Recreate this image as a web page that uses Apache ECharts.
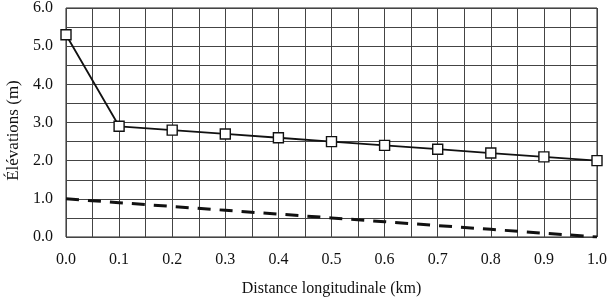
<!DOCTYPE html>
<html>
<head>
<meta charset="utf-8">
<script src="https://cdn.jsdelivr.net/npm/echarts@6/dist/echarts.min.js"></script>
<style>
  html, body { margin: 0; padding: 0; background: #fff; }
  #chart { width: 610px; height: 303px; }
</style>
</head>
<body>
<div id="chart"></div>
<script>
// données
const distances = [0.0, 0.1, 0.2, 0.3, 0.4, 0.5, 0.6, 0.7, 0.8, 0.9, 1.0]
const elevSurface = [5.3, 2.9, 2.8, 2.7, 2.6, 2.5, 2.4, 2.3, 2.2, 2.1, 2.0]
const elevFond = [1.0, 0.9, 0.8, 0.7, 0.6, 0.5, 0.4, 0.3, 0.2, 0.1, 0.0]

const chart = echarts.init(document.getElementById('chart'))

const serif = 'Liberation Serif'

const option = {
  animation: false,
  grid: {
    left: 66, right: 13, top: 8, bottom: 66,
    outerBoundsMode: 'none', containLabel: false,
    show: true, borderColor: '#222', borderWidth: 1
  },
  xAxis: {
    type: 'value',
    min: 0,
    max: 1,
    interval: 0.05,
    name: 'Distance longitudinale (km)',
    nameLocation: 'middle',
    nameGap: 44,
    nameTextStyle: { fontFamily: serif, fontSize: 16, color: '#111' },
    axisLine: { show: false },
    axisTick: { show: false },
    axisLabel: {
      fontFamily: serif, fontSize: 16, color: '#111', margin: 15,
      formatter: v => (Math.round(v * 20) % 2 === 0 ? v.toFixed(1) : '')
    },
    splitLine: { show: true, lineStyle: { color: '#444', width: 1 } }
  },
  yAxis: {
    type: 'value',
    min: 0,
    max: 6,
    interval: 0.5,
    name: 'Élévations (m)',
    nameLocation: 'middle',
    nameGap: 34,
    nameTextStyle: { fontFamily: serif, fontSize: 17, color: '#111', padding: [0, 16, 0, 0] },
    axisLine: { show: false },
    axisTick: { show: false },
    axisLabel: {
      fontFamily: serif, fontSize: 16, color: '#111', margin: 13,
      formatter: v => (Math.round(v * 2) % 2 === 0 ? v.toFixed(1) : '')
    },
    splitLine: { show: true, lineStyle: { color: '#444', width: 1 } }
  },
  series: [
    {
      type: 'line',
      data: distances.map((d, i) => [d, elevSurface[i]]),
      symbol: 'rect',
      symbolSize: 10,
      lineStyle: { color: '#111', width: 1.8 },
      itemStyle: { color: '#fff', borderColor: '#111', borderWidth: 1.4 },
      z: 5
    },
    {
      type: 'line',
      data: distances.map((d, i) => [d, elevFond[i]]),
      symbol: 'none',
      lineStyle: { color: '#111', width: 3, type: [13, 9] },
      z: 4
    }
  ]
}

chart.setOption(option)
</script>
</body>
</html>
